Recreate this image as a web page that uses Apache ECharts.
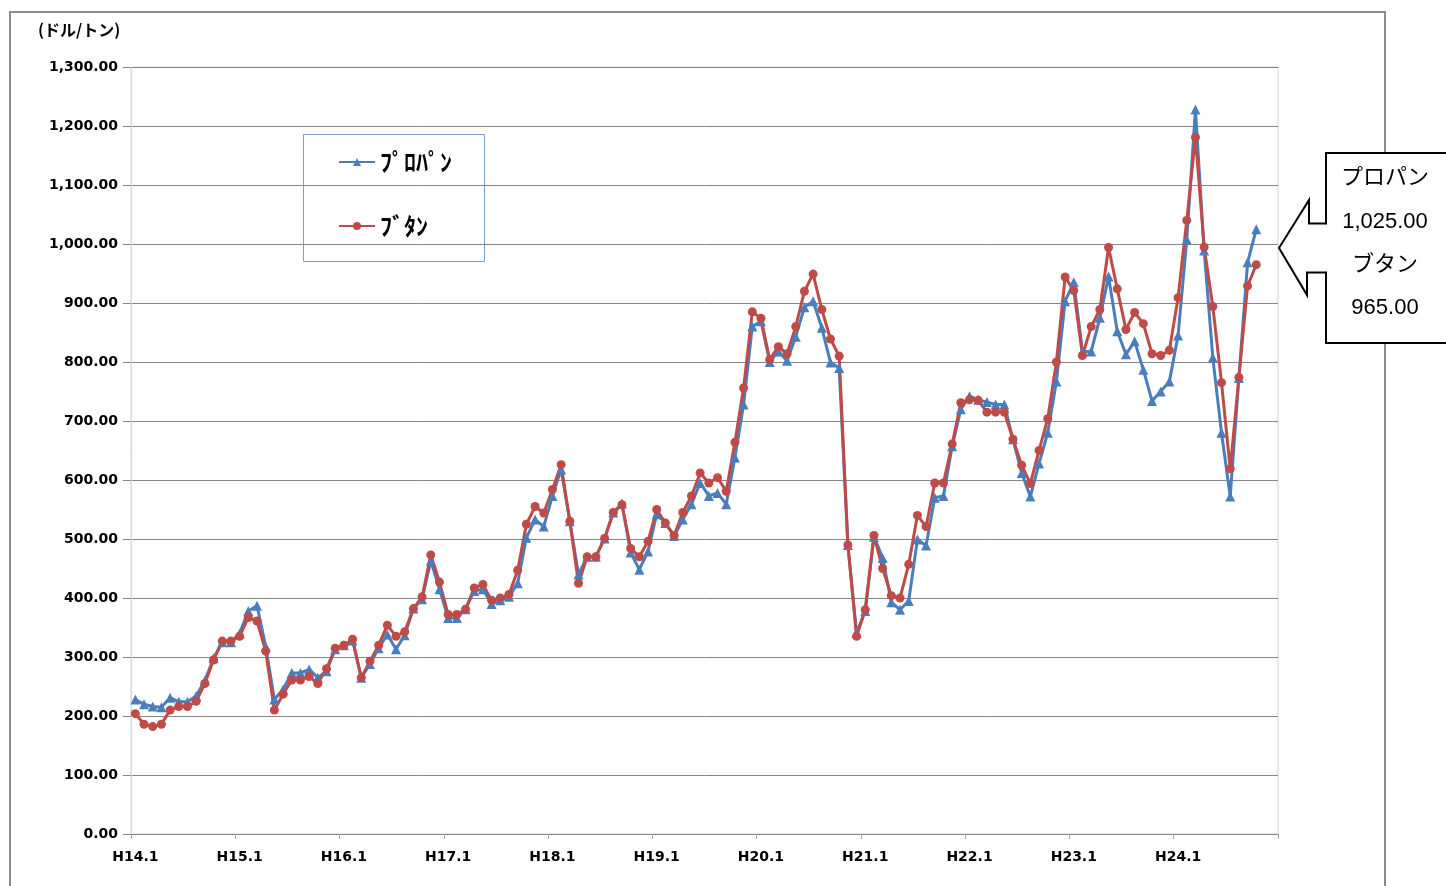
<!DOCTYPE html>
<html>
<head>
<meta charset="utf-8">
<script src="https://cdn.jsdelivr.net/npm/echarts@6/dist/echarts.min.js"></script>
<style>
  html, body { margin: 0; padding: 0; background: #fff; }
  #chart { width: 1446px; height: 886px; }
</style>
</head>
<body>
<div id="chart"></div>
<script>
// 年度ラベル（H14〜H24、各12か月）
const years = ['H14', 'H15', 'H16', 'H17', 'H18', 'H19', 'H20', 'H21', 'H22', 'H23', 'H24'];
const months = [1, 2, 3, 4, 5, 6, 7, 8, 9, 10, 11, 12];

// プロパン（ドル/トン）H14.1〜H24.10
const propane = [
  228, 220, 216, 215, 231, 224, 224, 234, 260, 298, 325, 325,
  340, 378, 387, 318, 228, 245, 273, 273, 279, 265, 276, 313,
  320, 328, 265, 288, 315, 338, 313, 337, 382, 398, 463, 415,
  366, 366, 381, 412, 415, 390, 396, 402, 425, 502, 533, 521,
  573, 618, 530, 440, 470, 470, 501, 545, 560, 477, 448, 479,
  542, 527, 505, 533, 559, 595, 573, 578, 559, 638, 728, 860,
  869, 800, 818, 802, 843, 893, 903, 858, 799, 790, 490, 341,
  378, 504, 468, 393, 380, 395, 499, 489, 570, 573, 657, 720,
  742, 736, 732, 728, 728, 669, 612, 572, 628, 680, 767, 903,
  935, 818, 818, 875, 945, 852, 813, 835, 787, 734, 750, 767,
  845, 1007, 1228, 989, 807, 680, 572, 773, 969, 1025
];

// ブタン（ドル/トン）H14.1〜H24.10
const butane = [
  204, 186, 182, 186, 210, 216, 216, 225, 255, 295, 327, 327,
  335, 367, 361, 310, 210, 237, 261, 261, 267, 255, 280, 315,
  320, 330, 265, 293, 320, 354, 335, 343, 382, 402, 473, 427,
  372, 372, 381, 417, 423, 396, 400, 406, 447, 525, 555, 544,
  584, 626, 530, 425, 470, 470, 501, 545, 558, 484, 470, 496,
  550, 527, 506, 545, 573, 612, 595, 604, 581, 664, 756, 885,
  874, 804, 826, 814, 860, 920, 949, 889, 839, 810, 490, 335,
  380, 506, 450, 404, 400, 457, 540, 521, 595, 595, 661, 731,
  736, 735, 715, 715, 715, 669, 625, 594, 650, 704, 800, 944,
  921, 811, 860, 889, 994, 924, 855, 884, 865, 814, 811, 820,
  909, 1040, 1181, 995, 894, 765, 619, 774, 929, 965
];

const categories = years.flatMap((y) => months.map((m) => `${y}.${m}`));

const fmt = (v) => v.toLocaleString('en-US', { minimumFractionDigits: 2, maximumFractionDigits: 2 });

const BLUE = '#4a7ebb';
const RED = '#be4b48';
const GRID_LINE = '#868686';

const chart = echarts.init(document.getElementById('chart'), null, { renderer: 'canvas' });

const option = {
  animation: false,
  backgroundColor: '#fff',
  grid: {
    left: 131,
    right: 168,
    top: 67,
    bottom: 52,
    show: true,
    borderColor: '#c6d6ea',
    borderWidth: 1
  },
  legend: {
    left: 338,
    top: 149,
    orient: 'vertical',
    itemWidth: 36,
    itemHeight: 10,
    itemGap: 38,
    padding: 0,
    textStyle: {
      fontFamily: 'Noto Sans CJK JP',
      fontWeight: 'bold',
      fontSize: 24,
      lineHeight: 26,
      color: '#000'
    },
    data: ['ﾌﾟﾛﾊﾟﾝ', 'ﾌﾞﾀﾝ']
  },
  xAxis: {
    type: 'category',
    data: categories,
    boundaryGap: true,
    axisLine: { lineStyle: { color: GRID_LINE, width: 1 } },
    axisTick: { show: true, interval: 11, length: 5, lineStyle: { color: '#a6a6a6' } },
    axisLabel: {
      interval: 11,
      margin: 16,
      fontFamily: 'DejaVu Sans',
      fontWeight: 'bold',
      fontSize: 14,
      color: '#000'
    },
    splitLine: { show: false }
  },
  yAxis: {
    type: 'value',
    min: 0,
    max: 1300,
    interval: 100,
    axisLine: { show: true, lineStyle: { color: '#d9d9d9' } },
    axisTick: { show: true, length: 8, lineStyle: { color: GRID_LINE } },
    axisLabel: {
      margin: 13,
      fontFamily: 'DejaVu Sans',
      fontWeight: 'bold',
      fontSize: 14,
      color: '#000',
      formatter: fmt
    },
    splitLine: { lineStyle: { color: GRID_LINE, width: 1 } }
  },
  series: [
    {
      name: 'ﾌﾟﾛﾊﾟﾝ',
      type: 'line',
      data: propane,
      symbol: 'triangle',
      symbolSize: 10,
      showAllSymbol: true,
      color: BLUE,
      lineStyle: { width: 3, color: BLUE },
      itemStyle: { color: BLUE }
    },
    {
      name: 'ﾌﾞﾀﾝ',
      type: 'line',
      data: butane,
      symbol: 'circle',
      symbolSize: 9,
      showAllSymbol: true,
      color: RED,
      lineStyle: { width: 3, color: RED },
      itemStyle: { color: RED }
    }
  ],
  graphic: [
    // 外枠
    {
      type: 'rect',
      z: 1,
      shape: { x: 10, y: 12, width: 1375, height: 900 },
      style: { fill: 'none', stroke: '#8c8c8c', lineWidth: 2 }
    },
    // 単位
    {
      type: 'text',
      left: 38,
      top: 22,
      style: {
        text: '(ドル/トン)',
        font: 'bold 16px "Noto Sans CJK JP"',
        fill: '#000'
      }
    },
    // 凡例の枠
    {
      type: 'rect',
      z: 0,
      shape: { x: 303.5, y: 134.5, width: 181, height: 127 },
      style: { fill: '#fff', stroke: '#7f9fcf', lineWidth: 1 }
    },
    // 吹き出し
    {
      type: 'polygon',
      z: 10,
      shape: {
        points: [
          [1326, 153], [1460, 153], [1460, 343], [1326, 343],
          [1326, 272.5], [1307, 272.5], [1307, 295], [1279, 248],
          [1309, 200], [1309, 223.5], [1326, 223.5]
        ]
      },
      style: { fill: '#fff', stroke: '#000', lineWidth: 2 }
    },
    {
      type: 'group',
      z: 11,
      children: [
        ['プロパン', 178],
        [fmt(propane[propane.length - 1]), 222],
        ['ブタン', 265],
        [fmt(butane[butane.length - 1]), 308]
      ].map(([t, y]) => ({
        type: 'text',
        z: 11,
        x: 1385,
        y: y,
        style: {
          text: t,
          font: '22px "Liberation Sans", "Noto Sans CJK JP"',
          fill: '#000',
          align: 'center',
          verticalAlign: 'middle'
        }
      }))
    }
  ]
};

chart.setOption(option);
</script>
</body>
</html>
